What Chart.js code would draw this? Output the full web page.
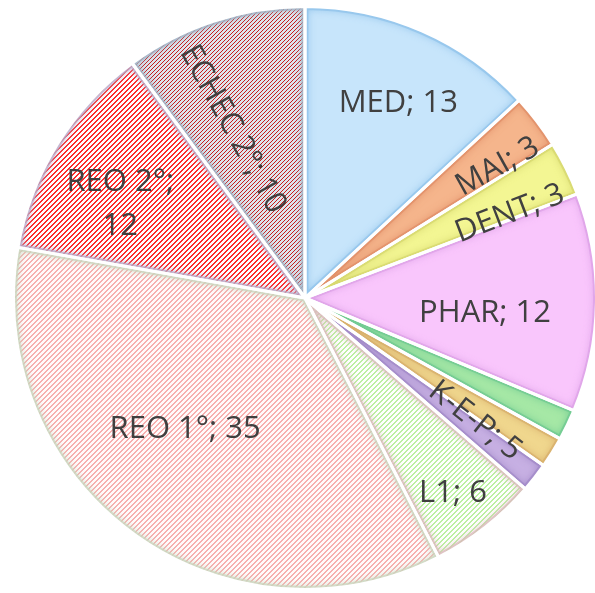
<!DOCTYPE html>
<html>
<head>
<meta charset="utf-8">
<script src="https://cdn.jsdelivr.net/npm/chart.js@4.4.1/dist/chart.umd.min.js"></script>
<style>
  body { margin: 0; background: #ffffff; overflow: hidden; }
  .wrap { position: absolute; left: 12px; top: 5px; width: 586px; height: 586px; }
</style>
</head>
<body>
<div class="wrap"><canvas id="pie"></canvas></div>
<script>
// slices, clockwise from 12 o'clock
const categories = ["MED", "MAI", "DENT", "PHAR", "K", "E", "P", "L1", "REO 1°", "REO 2°", "ECHEC 2°"];
const counts = [13, 3, 3, 12, 1.7, 1.7, 1.6, 6, 35, 12, 10];
// the three thin slices share one label
const groupedSlices = ["K", "E", "P"];

function hatch(fg, bg, size, thick) {
  const c = document.createElement("canvas");
  c.width = c.height = size;
  const g = c.getContext("2d");
  g.fillStyle = bg;
  g.fillRect(0, 0, size, size);
  g.fillStyle = fg;
  for (let i = 0; i < size; i++) {
    g.fillRect(i, size - 1 - i, thick, 1);
    if (i + thick > size) g.fillRect(0, size - 1 - i, i + thick - size, 1);
  }
  return g.createPattern(c, "repeat");
}

const fills = {
  "MED": "#c7e5fb",
  "MAI": "#f5b58c",
  "DENT": "#f3f693",
  "PHAR": "#f9c6fc",
  "K": "#a6e8a6",
  "E": "#f0d78e",
  "P": "#c7b0e3",
  "L1": hatch("#bdf0a3", "#ffffff", 5, 2),
  "REO 1°": hatch("#f7b0b0", "#fffbfb", 5, 2),
  "REO 2°": hatch("#ff2a2a", "#ffffff", 5, 2),
  "ECHEC 2°": hatch("#c81a1a", "#dde5ec", 4, 1)
};

// soft darker rim along each slice edge
const rims = {
  "MED": "#8ec2ea",
  "MAI": "#df8d66",
  "DENT": "#d4d66c",
  "PHAR": "#dc9fe6",
  "K": "#6cc890",
  "E": "#d6ac6a",
  "P": "#9f88c6",
  "L1": "#d9b9b9",
  "REO 1°": "#c9d6bd",
  "REO 2°": "#b9a9c9",
  "ECHEC 2°": "#9fb2c4"
};

// label placement: radius fraction, angle shift (deg), fixed rotation (deg)
const labelStyle = {
  "MED": { f: 0.74, da: 2 },
  "MAI": { f: 0.80, da: 3, rot: -29 },
  "DENT": { f: 0.76, da: 4, rot: -21 },
  "PHAR": { f: 0.62, da: 4 },
  "K": { f: 0.72, da: 4, rot: 38, span: 3 },
  "L1": { f: 0.84, da: 1 },
  "REO 1°": { f: 0.61, da: 6 },
  "REO 2°": { f: 0.71, da: -5, wrap: true },
  "ECHEC 2°": { f: 0.63, da: -5, rot: 61 }
};

function wedge(ctx, p) {
  ctx.beginPath();
  ctx.moveTo(p.x, p.y);
  ctx.arc(p.x, p.y, p.outerRadius, p.startAngle, p.endAngle);
  ctx.closePath();
}

const sliceRims = {
  id: "sliceRims",
  afterDatasetsDraw(chart) {
    const ctx = chart.ctx;
    const arcs = chart.getDatasetMeta(0).data;
    const props = arcs.map(a => a.getProps(["x", "y", "startAngle", "endAngle", "outerRadius"], true));
    props.forEach((p, i) => {
      ctx.save();
      wedge(ctx, p);
      ctx.clip();
      ctx.strokeStyle = rims[categories[i]];
      ctx.shadowColor = rims[categories[i]];
      ctx.shadowBlur = 7;
      ctx.lineWidth = 7;
      ctx.globalAlpha = 0.7;
      wedge(ctx, p);
      ctx.stroke();
      ctx.restore();
    });
    // white gaps back on top
    ctx.save();
    ctx.strokeStyle = "#ffffff";
    ctx.lineWidth = 3;
    ctx.lineJoin = "round";
    props.forEach(p => { wedge(ctx, p); ctx.stroke(); });
    ctx.restore();
  }
};

const sliceLabels = {
  id: "sliceLabels",
  afterDatasetsDraw(chart) {
    const ctx = chart.ctx;
    const arcs = chart.getDatasetMeta(0).data;
    ctx.save();
    ctx.fillStyle = "#404040";
    ctx.font = "31px 'Open Sans'";
    ctx.textAlign = "center";
    ctx.textBaseline = "middle";
    arcs.forEach((arc, i) => {
      const st = labelStyle[categories[i]];
      if (!st) return;
      const span = st.span || 1;
      const last = arcs[i + span - 1];
      const p = arc.getProps(["x", "y", "startAngle", "outerRadius"], true);
      const end = last.getProps(["endAngle"], true).endAngle;
      const mid = (p.startAngle + end) / 2 + (st.da || 0) * Math.PI / 180;
      const r = p.outerRadius * st.f;
      const x = p.x + Math.cos(mid) * r;
      const y = p.y + Math.sin(mid) * r;

      let text;
      if (span > 1) {
        let sum = 0;
        for (let k = i; k < i + span; k++) sum += counts[k];
        text = groupedSlices.join("-") + "; " + Math.round(sum);
      } else {
        text = categories[i] + "; " + counts[i];
      }

      ctx.save();
      ctx.translate(x, y);
      if (st.rot) ctx.rotate(st.rot * Math.PI / 180);
      if (st.wrap) {
        ctx.fillText(categories[i] + ";", 0, -22);
        ctx.fillText(String(counts[i]), 0, 22);
      } else {
        ctx.fillText(text, 0, 0);
      }
      ctx.restore();
    });
    ctx.restore();
  }
};

new Chart(document.getElementById("pie"), {
  type: "pie",
  data: {
    labels: categories,
    datasets: [{
      data: counts,
      backgroundColor: categories.map(c => fills[c]),
      borderColor: "#ffffff",
      borderWidth: 3
    }]
  },
  options: {
    responsive: true,
    maintainAspectRatio: false,
    animation: false,
    events: [],
    layout: { padding: 0 },
    plugins: {
      legend: { display: false },
      tooltip: { enabled: false }
    }
  },
  plugins: [sliceRims, sliceLabels]
});
</script>
</body>
</html>
